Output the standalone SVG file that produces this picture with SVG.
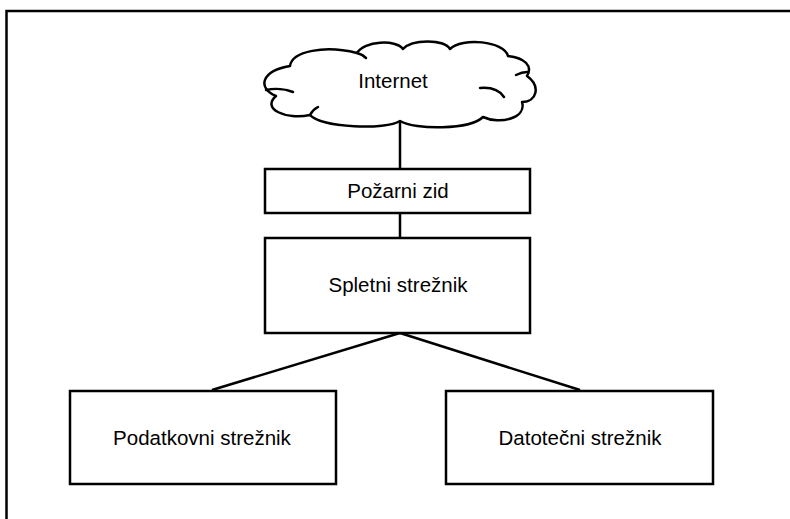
<svg xmlns="http://www.w3.org/2000/svg" width="790" height="519" viewBox="0 0 790 519">
  <style>
    .box { fill: #ffffff; stroke: #000000; stroke-width: 2.5; }
    .cloud { fill: #ffffff; stroke: #000000; stroke-width: 2.5; stroke-linejoin: round; }
    .hook { fill: none; stroke: #000000; stroke-width: 2.5; stroke-linecap: round; }
    .link { stroke: #000000; stroke-width: 2.5; fill: none; }
    .label { font-family: "Liberation Sans", Arial, sans-serif; font-size: 20.5px; fill: #000000; text-anchor: middle; }
  </style>
  <rect x="0" y="0" width="790" height="519" fill="#ffffff"/>
  <!-- outer frame -->
  <rect x="6.5" y="11" width="800" height="520" fill="none" stroke="#000000" stroke-width="2.5"/>

  <g id="connectors">
    <line class="link" x1="400" y1="118" x2="400" y2="169"/>
    <line class="link" x1="400" y1="213" x2="400" y2="238"/>
    <line class="link" x1="400" y1="333" x2="212" y2="390"/>
    <line class="link" x1="400" y1="333" x2="580" y2="390"/>
  </g>

  <g id="internet">
    <path class="cloud" d="M 290,66
      C 292,51 325,45 357,53
      C 364,41 396,39 403,49
      C 412,39 444,39 450,49
      C 462,37 504,41 508,56
      C 525,58 533,66 527,76
      C 541,86 537,102 522,102
      C 527,118 500,125 483,117
      C 470,130 415,130 400,121
      C 386,130 322,128 310,115
      C 286,120 261,109 276,96
      C 257,88 261,71 290,66 Z"/>
    <path class="hook" d="M 266,90 C 275,88 286,89 293,92"/>
    <path class="hook" d="M 480,88 C 492,87 500,91 504,97"/>
    <path class="hook" d="M 516,75 C 520,73 524,72 527,72"/>
    <path class="hook" d="M 357,53 C 361,54 364,56 366,58"/>
    <path class="hook" d="M 310,115 C 312,111 314,109 318,107"/>
    <text class="label" x="393" y="88">Internet</text>
  </g>

  <g id="firewall">
    <rect class="box" x="265" y="169" width="265" height="44"/>
    <text class="label" x="398" y="198">Požarni zid</text>
  </g>

  <g id="web-server">
    <rect class="box" x="265" y="238" width="265" height="95"/>
    <text class="label" x="398" y="292">Spletni strežnik</text>
  </g>

  <g id="database-server">
    <rect class="box" x="70" y="391" width="266" height="93"/>
    <text class="label" x="202" y="445">Podatkovni strežnik</text>
  </g>

  <g id="file-server">
    <rect class="box" x="446" y="391" width="267" height="93"/>
    <text class="label" x="580" y="445">Datotečni strežnik</text>
  </g>
</svg>
